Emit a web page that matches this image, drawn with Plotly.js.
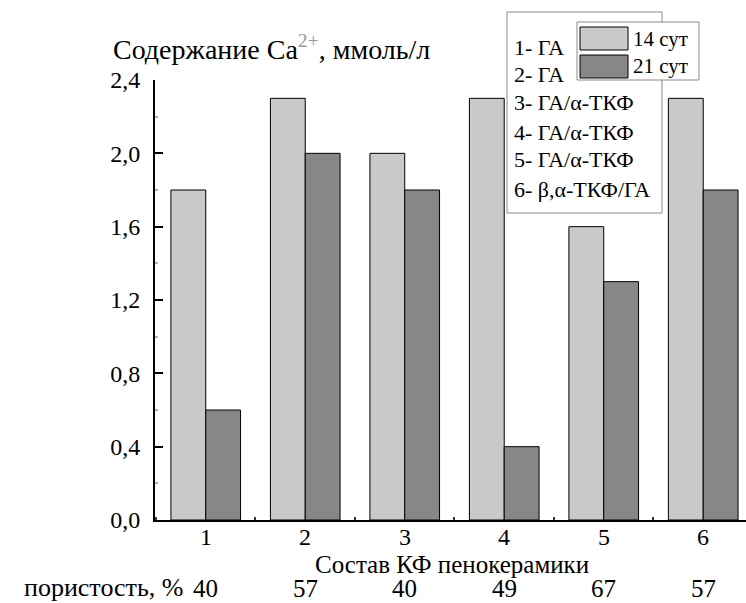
<!DOCTYPE html>
<html><head><meta charset="utf-8">
<script src="https://cdn.plot.ly/plotly-3.0.1.min.js"></script>
<style>html,body{margin:0;padding:0;background:#fff}</style>
</head><body><div id="chart" style="width:746px;height:603px"></div>
<script>
// ---- data ----
const categories = [1, 2, 3, 4, 5, 6];
const tickLabels = ['1', '2', '3', '4', '5', '6'];
const series14 = [1.8, 2.3, 2.0, 2.3, 1.6, 2.3];
const series21 = [0.6, 2.0, 1.8, 0.4, 1.3, 1.8];
const porosity = [40, 57, 40, 49, 67, 57];
const seriesNames = ['14 сут', '21 сут'];
const compositionLabels = ['1- ГА', '2- ГА', '3- ГА/α-ТКФ', '4- ГА/α-ТКФ', '5- ГА/α-ТКФ', '6- β,α-ТКФ/ГА'];
const yTickVals = [0, 0.4, 0.8, 1.2, 1.6, 2.0, 2.4];
const yTitle = 'Содержание Ca<sup><span style="color:#9a9a9a">2+</span></sup>, ммоль/л';
const xTitle = 'Состав КФ пенокерамики';
const porosityLabel = 'пористость, %';

// ---- layout geometry (pixels) ----
const L = 155, R = 746, T = 80, B = 520;
const W = R - L, H = B - T;
const px = x => (x - L) / W;
const py = y => (B - y) / H;
const FONT = '"Liberation Serif", "Times New Roman", Tinos, "DejaVu Serif", serif';
const LIGHT = '#c9c9c9', DARK = '#878787';
const txt = s => ({family: FONT, size: s, color: '#000'});

const traces = [
  {type: 'bar', name: seriesNames[0], x: categories, y: series14,
   marker: {color: LIGHT, line: {color: '#000', width: 1}}},
  {type: 'bar', name: seriesNames[1], x: categories, y: series21,
   marker: {color: DARK, line: {color: '#000', width: 1}}}
];

const annotations = [];
annotations.push({xref: 'paper', yref: 'paper', x: px(111), y: py(47), xanchor: 'left', yanchor: 'middle',
  text: yTitle, showarrow: false, font: txt(28)});
annotations.push({xref: 'paper', yref: 'paper', x: px(452), y: py(564), xanchor: 'center', yanchor: 'middle',
  text: xTitle, showarrow: false, font: txt(25)});
annotations.push({xref: 'paper', yref: 'paper', x: px(185), y: py(604), xanchor: 'right', yanchor: 'bottom',
  text: porosityLabel, showarrow: false, font: txt(26)});
porosity.forEach((v, i) => annotations.push({xref: 'x', yref: 'paper', x: categories[i], y: py(604),
  xanchor: 'center', yanchor: 'bottom', text: String(v), showarrow: false, font: txt(25)}));
tickLabels.forEach((t, i) => annotations.push({xref: 'x', yref: 'paper', x: categories[i], y: py(537),
  xanchor: 'center', yanchor: 'middle', text: t, showarrow: false, font: txt(24)}));
const legendY = [48, 75, 103, 132, 160, 189];
compositionLabels.forEach((t, i) => annotations.push({xref: 'paper', yref: 'paper', x: px(512), y: py(legendY[i]),
  xanchor: 'left', yanchor: 'middle', text: t, showarrow: false, font: txt(22)}));
const swY = [[27, 50], [55, 78]];
const swCol = [LIGHT, DARK];
seriesNames.forEach((n, i) => annotations.push({xref: 'paper', yref: 'paper', x: px(631), y: py((swY[i][0] + swY[i][1]) / 2),
  xanchor: 'left', yanchor: 'middle', text: n, showarrow: false, font: txt(21)}));

const shapes = [
  {type: 'rect', xref: 'paper', yref: 'paper', x0: px(507), x1: px(662), y0: py(213), y1: py(12),
   line: {color: '#8a8a8a', width: 1}, fillcolor: '#fff', layer: 'above'},
  {type: 'rect', xref: 'paper', yref: 'paper', x0: px(577), x1: px(699), y0: py(80), y1: py(22),
   line: {color: '#8a8a8a', width: 1}, fillcolor: '#fff', layer: 'above'}
];
swY.forEach((s, i) => shapes.push({type: 'rect', xref: 'paper', yref: 'paper', x0: px(580), x1: px(628),
  y0: py(s[1]), y1: py(s[0]), line: {color: '#000', width: 1}, fillcolor: swCol[i], layer: 'above'}));

const layout = {
  width: 746, height: 603,
  margin: {l: L, r: 746 - R, t: T, b: 603 - B, pad: 0},
  paper_bgcolor: '#fff', plot_bgcolor: '#fff',
  showlegend: false,
  barmode: 'group', bargap: 0.3, bargroupgap: 0,
  separators: ', ',
  font: {family: FONT, color: '#000'},
  xaxis: {
    range: [0.49, 6.43], tickvals: categories, showticklabels: false,
    ticks: '', showline: true, linecolor: '#000', linewidth: 2, showgrid: false, zeroline: false,
    minor: {ticks: 'inside', tick0: 0.5, dtick: 1, ticklen: 3, tickwidth: 2, tickcolor: '#333', showgrid: false}
  },
  yaxis: {
    range: [0, 2.4], tickvals: yTickVals, tickformat: '.1f',
    ticks: 'inside', ticklen: 8, tickwidth: 2, tickcolor: '#000',
    showline: true, linecolor: '#000', linewidth: 2, showgrid: false, zeroline: false,
    tickfont: txt(24), ticklabelstandoff: 8,
    minor: {ticks: 'inside', dtick: 0.2, ticklen: 3, tickwidth: 2, tickcolor: '#b0b0b0', showgrid: false}
  },
  annotations: annotations,
  shapes: shapes
};

Plotly.newPlot('chart', traces, layout, {displayModeBar: false, staticPlot: true});
</script>
</body></html>
